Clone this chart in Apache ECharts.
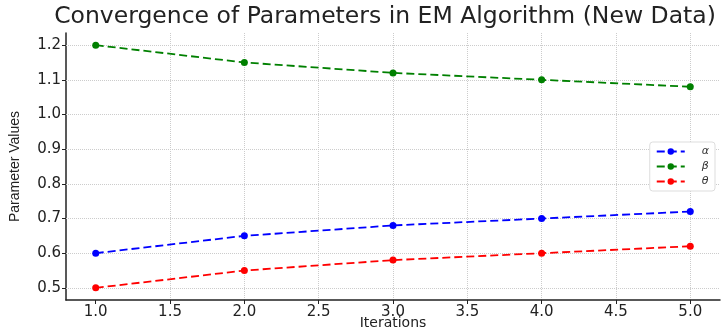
<!DOCTYPE html>
<html>
<head>
<meta charset="utf-8">
<script src="https://cdn.jsdelivr.net/npm/echarts@6/dist/echarts.min.js"></script>
<style>
html,body{margin:0;padding:0;background:#fff}
#chart{width:723px;height:329px}
</style>
</head>
<body>
<div id="chart"></div>
<script>
// iterations and parameter estimates
var iterations = [1, 2, 3, 4, 5]
var alphaVals = [0.60, 0.65, 0.68, 0.70, 0.72]
var betaVals = [1.20, 1.15, 1.12, 1.10, 1.08]
var thetaVals = [0.50, 0.55, 0.58, 0.60, 0.62]
var xTicks = [1, 1.5, 2, 2.5, 3, 3.5, 4, 4.5, 5]
var yTicks = [0.5, 0.6, 0.7, 0.8, 0.9, 1.0, 1.1, 1.2]
var names = ['α', 'β', 'θ']
var colors = ['#0000ff', '#008000', '#ff0000']

var font = 'DejaVu Sans'
function pairs(vals){
    return iterations.map(function(x, i){ return [x, vals[i]] })
}
function makeSeries(name, vals, color){
    return {
        name: name,
        type: 'line',
        data: pairs(vals),
        symbol: 'circle',
        symbolSize: 7,
        z: 3,
        itemStyle: {color: color},
        lineStyle: {color: color, width: 1.8, type: [8, 4]},
        animation: false
    }
}

var chart = echarts.init(document.getElementById('chart'))
chart.setOption({
    backgroundColor: '#fff',
    title: {
        text: 'Convergence of Parameters in EM Algorithm (New Data)',
        left: 380, top: 0, textAlign: 'center',
        textStyle: {fontFamily: font, fontSize: 23.5, fontWeight: 'normal', color: '#222'}
    },
    legend: {
        data: names,
        right: 8, top: 142,
        orient: 'vertical',
        itemWidth: 28, itemHeight: 8, itemGap: 4,
        padding: [4, 6, 4, 6],
        backgroundColor: '#fff',
        borderColor: '#ddd', borderWidth: 1, borderRadius: 3,
        textStyle: {fontFamily: font, fontSize: 11, fontStyle: 'italic', color: '#333', padding: [0, 0, 0, 12]}
    },
    grid: {left: 66, right: 3, top: 33, bottom: 29, outerBoundsMode: 'none'},
    xAxis: {
        type: 'value', min: 0.8, max: 5.2, interval: 0.5,
        name: 'Iterations', nameLocation: 'middle', nameGap: 16, nameMoveOverlap: false,
        nameTextStyle: {fontFamily: font, fontSize: 14, color: '#222', verticalAlign: 'top'},
        axisLine: {lineStyle: {color: '#222', width: 1.5}},
        axisTick: {show: true, length: 4, lineStyle: {color: '#222'}, customValues: xTicks},
        axisLabel: {fontFamily: font, fontSize: 15, color: '#222', margin: 5,
            customValues: xTicks,
            formatter: function(v){ return v.toFixed(1) }},
        splitLine: {show: true, lineStyle: {color: '#ccc', type: 'dotted'}, showMinLine: false}
    },
    yAxis: {
        type: 'value', min: 0.465, max: 1.235,
        name: 'Parameter Values', nameLocation: 'middle', nameGap: 44,
        nameTextStyle: {fontFamily: 'Liberation Sans', fontSize: 14, color: '#222'},
        axisLine: {show: true, lineStyle: {color: '#222', width: 1.5}},
        axisTick: {show: true, length: 4, lineStyle: {color: '#222'}, customValues: yTicks},
        axisLabel: {fontFamily: font, fontSize: 15, color: '#222', margin: 5,
            customValues: yTicks,
            formatter: function(v){ return v.toFixed(1) }},
        splitLine: {show: false}
    },
    series: [
        makeSeries(names[0], alphaVals, colors[0]),
        makeSeries(names[1], betaVals, colors[1]),
        makeSeries(names[2], thetaVals, colors[2]),
        {
            type: 'line', data: [], silent: true, z: 1,
            markLine: {
                silent: true, symbol: 'none', label: {show: false}, z: 1,
                lineStyle: {color: '#ccc', type: 'dotted', width: 1},
                data: yTicks.map(function(v){ return {yAxis: v} }),
                animation: false
            }
        }
    ]
})
</script>
</body>
</html>
